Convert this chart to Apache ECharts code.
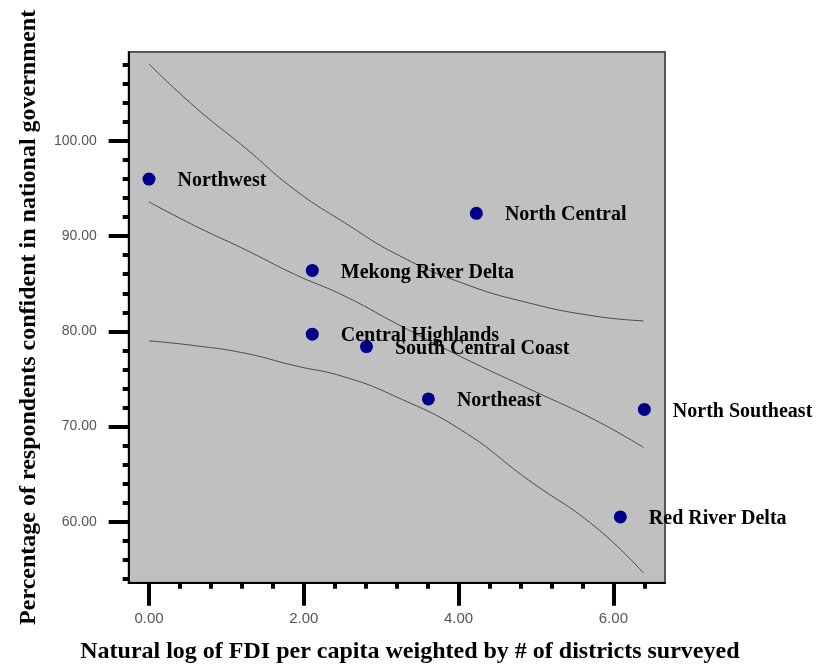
<!DOCTYPE html>
<html>
<head>
<meta charset="utf-8">
<script src="https://cdn.jsdelivr.net/npm/echarts@6/dist/echarts.min.js"></script>
<style>html,body{margin:0;padding:0;background:#fff}#c{width:821px;height:671px}</style>
</head>
<body>
<div id="c"></div>
<script>
// Data
const regions = ['Northwest','North Central','Mekong River Delta','Central Highlands','South Central Coast','Northeast','North Southeast','Red River Delta'];
const fdiLog = [0.00, 4.23, 2.11, 2.11, 2.81, 3.61, 6.40, 6.09];
const confidence = [96.0, 92.4, 86.4, 79.7, 78.4, 72.9, 71.8, 60.5];
const curveX = [0.00, 0.59, 1.24, 1.88, 2.53, 3.20, 4.04, 4.90, 5.76, 6.39];
const upperCurve = [108.1, 103.6, 99.3, 94.9, 91.4, 88.1, 85.1, 83.0, 81.6, 81.1];
const fitCurve = [93.6, 91.1, 88.6, 86.0, 83.7, 80.8, 77.3, 74.0, 70.7, 67.8];
const lowerCurve = [79.0, 78.5, 77.7, 76.4, 75.2, 73.1, 69.6, 64.4, 59.5, 54.6];
const xMajorTicks = [0, 2, 4, 6];
const xMinorTicks = [0.4, 0.8, 1.2, 1.6, 2.4, 2.8, 3.2, 3.6, 4.4, 4.8, 5.2, 5.6, 6.4];
const yMajorTicks = [60, 70, 80, 90, 100];
const yMinorTicks = [54, 56, 58, 62, 64, 66, 68, 72, 74, 76, 78, 82, 84, 86, 88, 92, 94, 96, 98, 102, 104, 106, 108];
const xTitle = 'Natural log of FDI per capita weighted by # of districts surveyed';
const yTitle = 'Percentage of respondents confident in national government';

const X_MIN = -0.262, X_MAX = 6.667, Y_MIN = 53.59, Y_MAX = 109.35;
const pair = (xs, ys) => xs.map((x, i) => [x, ys[i]]);
const serif = '"Liberation Serif", "Times New Roman", serif';
const sans = '"Liberation Sans", Arial, sans-serif';

const chart = echarts.init(document.getElementById('c'), null, {renderer: 'canvas'});
const lineStyle = {color: '#4a4a4a', width: 1};
chart.setOption({
  animation: false,
  grid: {left: 128.7, top: 52, right: 156, bottom: 88.3, show: true, backgroundColor: '#c0c0c0', borderColor: '#555', borderWidth: 2},
  xAxis: [
    {type: 'value', min: X_MIN, max: X_MAX, position: 'bottom',
     name: xTitle, nameLocation: 'middle', nameGap: 57,
     nameTextStyle: {fontFamily: serif, fontWeight: 'bold', fontSize: 24, color: '#000', padding: [0, 0, 0, 26]},
     axisLine: {show: true, onZero: false, lineStyle: {color: '#000', width: 2}},
     axisTick: {show: true, length: 23, lineStyle: {color: '#000', width: 4}, customValues: xMajorTicks},
     axisLabel: {show: true, customValues: xMajorTicks, formatter: v => v.toFixed(2), color: '#555', fontFamily: sans, fontSize: 15, margin: 29},
     splitLine: {show: false}},
    {type: 'value', min: X_MIN, max: X_MAX, position: 'bottom',
     axisLine: {show: false, onZero: false},
     axisTick: {show: true, length: 6, lineStyle: {color: '#000', width: 4}, customValues: xMinorTicks},
     axisLabel: {show: false},
     splitLine: {show: false}}
  ],
  yAxis: [
    {type: 'value', min: Y_MIN, max: Y_MAX, position: 'left',
     name: yTitle, nameLocation: 'middle', nameGap: 88,
     nameTextStyle: {fontFamily: serif, fontWeight: 'bold', fontSize: 24, color: '#000'},
     axisLine: {show: true, onZero: false, lineStyle: {color: '#000', width: 2}},
     axisTick: {show: true, length: 20, lineStyle: {color: '#000', width: 4}, customValues: yMajorTicks},
     axisLabel: {show: true, customValues: yMajorTicks, formatter: v => v.toFixed(2), color: '#555', fontFamily: sans, fontSize: 14, margin: 32},
     splitLine: {show: false}},
    {type: 'value', min: Y_MIN, max: Y_MAX, position: 'left',
     axisLine: {show: false, onZero: false},
     axisTick: {show: true, length: 6, lineStyle: {color: '#000', width: 4}, customValues: yMinorTicks},
     axisLabel: {show: false},
     splitLine: {show: false}}
  ],
  series: [
    {type: 'line', data: pair(curveX, upperCurve), smooth: true, showSymbol: false, lineStyle: lineStyle, z: 2},
    {type: 'line', data: pair(curveX, fitCurve), smooth: true, showSymbol: false, lineStyle: lineStyle, z: 2},
    {type: 'line', data: pair(curveX, lowerCurve), smooth: true, showSymbol: false, lineStyle: lineStyle, z: 2},
    {type: 'scatter', symbolSize: 13, itemStyle: {color: '#000088', opacity: 1}, z: 3,
     data: fdiLog.map((x, i) => ({value: [x, confidence[i]], name: regions[i]})),
     label: {show: true, position: 'right', distance: 22, offset: [0, 2], formatter: p => p.name,
             fontFamily: serif, fontWeight: 'bold', fontSize: 20, color: '#000'}}
  ]
});
</script>
</body>
</html>
